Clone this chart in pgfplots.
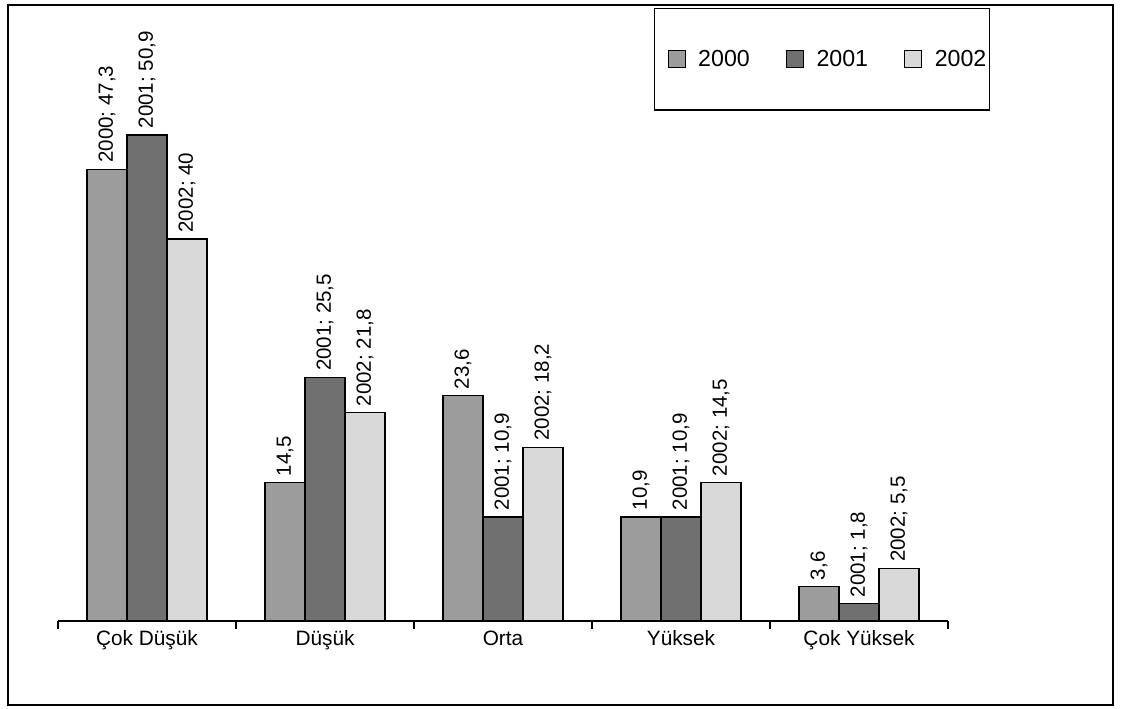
\documentclass[border=0pt]{standalone}
\usepackage{pgfplots}
\usepackage{pgfplotstable}
\pgfplotsset{compat=1.18}
\usepackage{fontspec}
\setmainfont{Liberation Sans}
\definecolor{cA}{HTML}{9C9C9C}
\definecolor{cB}{HTML}{707070}
\definecolor{cC}{HTML}{D9D9D9}
\pgfplotstableread{
x y
0 47.3
1 14.5
2 23.6
3 10.9
4 3.6
}\tA
\pgfplotstableread{
x y
0 50.9
1 25.5
2 10.9
3 10.9
4 1.8
}\tB
\pgfplotstableread{
x y
0 40
1 21.8
2 18.2
3 14.5
4 5.5
}\tC
\begin{document}
\begin{tikzpicture}
\useasboundingbox (0,0) rectangle (28.05cm,17.725cm);
\draw[line width=0.9pt] (0.2cm,0.1cm) rectangle (27.825cm,17.6cm);
\begin{axis}[
  at={(1.45cm,2.2cm)}, anchor=south west,
  scale only axis, width=22.25cm, height=14.325cm,
  xmin=-0.5, xmax=4.5, ymin=0, ymax=60,
  axis x line*=bottom, axis y line=none,
  axis line style={line width=0.9pt},
  ybar=0pt, bar width=1cm,
  xtick={0,1,2,3,4},
  xticklabels={Çok Düşük, Düşük, Orta, Yüksek, Çok Yüksek},
  major tick length=0pt,
  minor xtick={-0.5,0.5,1.5,2.5,3.5,4.5},
  minor tick length=0.2cm,
  tick align=outside,
  minor tick style={line width=0.9pt, black},
  xticklabel style={font=\fontsize{14.8}{16}\selectfont, yshift=-0.12cm},
  clip=false,
  /pgf/number format/assume math mode=true,
  /pgf/number format/use comma,
  visualization depends on={x \as \myx},
  every node near coord/.append style={rotate=90, anchor=west, font=\fontsize{14.6}{17}\selectfont, xshift=0.03cm},
  legend columns=3,
  legend style={at={(1.047,1.07)}, anchor=north east, draw=black, line width=0.9pt,
    font=\fontsize{16.5}{18}\selectfont, inner xsep=0cm, inner ysep=0.97cm,
    /tikz/every even column/.append style={column sep=0.5cm}},
  legend image code/.code={\path (-0.33cm,0); \draw[#1, line width=0.6pt] (0cm,-0.21cm) rectangle (0.42cm,0.21cm);},
]
\addplot[fill=cA, draw=black, line width=0.9pt,
  nodes near coords={\pgfmathtruncatemacro\isfirst{\myx<0.5}\ifnum\isfirst=1 2000; \fi\pgfmathprintnumber{\pgfplotspointmeta}}]
  table[x=x, y=y] {\tA};
\addplot[fill=cB, draw=black, line width=0.9pt,
  nodes near coords={2001; \pgfmathprintnumber{\pgfplotspointmeta}}]
  table[x=x, y=y] {\tB};
\addplot[fill=cC, draw=black, line width=0.9pt,
  nodes near coords={2002; \pgfmathprintnumber{\pgfplotspointmeta}}]
  table[x=x, y=y] {\tC};
\legend{\hspace{0.25cm}2000,\hspace{0.25cm}2001,\hspace{0.25cm}2002}
\end{axis}
\end{tikzpicture}
\end{document}
